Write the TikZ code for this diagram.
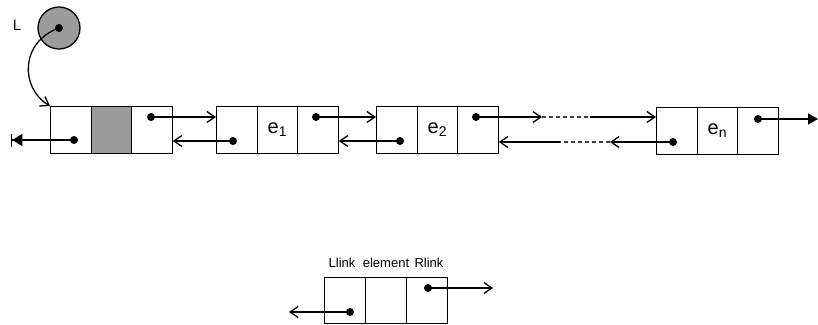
\documentclass[tikz,border=0pt]{standalone}
\usepackage{fontspec}
\setmainfont{Liberation Sans}
\usetikzlibrary{arrows.meta}
\definecolor{cellgray}{RGB}{155,155,155}
\begin{document}
\begin{tikzpicture}[x=1pt,y=-1pt,
  cell/.style={draw,line width=1.3pt,minimum width=40.5pt,minimum height=47pt,inner sep=0pt,anchor=north west,font=\fontsize{20}{22}\selectfont},
  lcell/.style={cell,minimum width=41pt,minimum height=46pt},
  dot/.style={circle,fill,inner sep=0pt,minimum size=8pt},
  arr/.style={line width=1.3pt,-{Straight Barb[length=8pt,width=11pt]}},
  dashseg/.style={line width=1.1pt,draw=black!75,dash pattern=on 4pt off 3pt},
  lbl/.style={anchor=base,inner sep=0pt,font=\fontsize{13}{15}\selectfont}]
\useasboundingbox (0,0) rectangle (818,324);

% pointer L
\node[circle,draw,line width=1.3pt,fill=cellgray,minimum size=42pt,inner sep=0pt] (Lc) at (59,28) {};
\node[dot] (Ld) at (59,28) {};
\node[anchor=center,inner sep=0pt,font=\fontsize{15}{17}\selectfont] (Ll) at (17,25) {L};

% node 1 (header)
\node[cell] (n1a) at (50,106) {};
\node[cell,fill=cellgray] (n1b) at (90.5,106) {};
\node[cell] (n1c) at (131,106) {};
% node 2
\node[cell] (n2a) at (216,105.5) {};
\node[cell] (n2b) at (256.5,105.5) {e\textsubscript{1}};
\node[cell] (n2c) at (297,105.5) {};
% node 3
\node[cell] (n3a) at (376,105.5) {};
\node[cell] (n3b) at (416.5,105.5) {e\textsubscript{2}};
\node[cell] (n3c) at (457,105.5) {};
% node n
\node[cell] (nna) at (656,106.5) {};
\node[cell] (nnb) at (696.5,106.5) {e\textsubscript{n}};
\node[cell] (nnc) at (737,106.5) {};

% dots
\node[dot] (d1l) at (74,140) {};
\node[dot] (d1r) at (151,117) {};
\node[dot] (d2l) at (233,141) {};
\node[dot] (d2r) at (316,117) {};
\node[dot] (d3l) at (400,141) {};
\node[dot] (d3r) at (476,117) {};
\node[dot] (dnl) at (673,142) {};
\node[dot] (dnr) at (758,119) {};

% free ends
\coordinate (e0) at (11,140);
\coordinate (e9) at (818,119);
\coordinate (m1) at (542,117);
\coordinate (m2) at (590,117);
\coordinate (m3) at (610,142);
\coordinate (m4) at (560,142);

% curved pointer
\draw[line width=1.3pt,-{Straight Barb[length=8pt,width=11pt]}] (Ld.center) .. controls (20,42) and (20,88) .. (n1a.north west);

% links
\draw[line width=1.3pt,-{Triangle[length=10pt,width=12pt,sep=0pt]Bar[width=13pt,sep=0pt]}] (d1l.center) -- (e0);
\draw[arr] (d1r.center) -- (d1r -| n2a.west);
\draw[arr] (d2l.center) -- (d2l -| n1c.east);
\draw[arr] (d2r.center) -- (d2r -| n3a.west);
\draw[arr] (d3l.center) -- (d3l -| n2c.east);
\draw[arr] (d3r.center) -- (m1);
\draw[dashseg] (m1) -- (m2);
\draw[arr] (m2) -- (m2 -| nna.west);
\draw[arr] (dnl.center) -- (m3);
\draw[dashseg] (m3) -- (m4);
\draw[arr] (m4) -- (m4 -| n3c.east);
\draw[line width=1.3pt,-{Triangle[length=10pt,width=11pt]}] (dnr.center) -- (e9);

% legend
\node[lcell] (ga) at (324,277) {};
\node[lcell] (gb) at (365,277) {};
\node[lcell] (gc) at (406,277) {};
\node[lbl] (t1) at (342,267) {Llink};
\node[lbl] (t2) at (386,267) {element};
\node[lbl] (t3) at (429,267) {Rlink};
\node[dot] (gdr) at (428,288) {};
\node[dot] (gdl) at (350,312) {};
\coordinate (g1) at (493,288);
\coordinate (g2) at (289,312);
\draw[arr] (gdr.center) -- (g1);
\draw[arr] (gdl.center) -- (g2);
\end{tikzpicture}
\end{document}
